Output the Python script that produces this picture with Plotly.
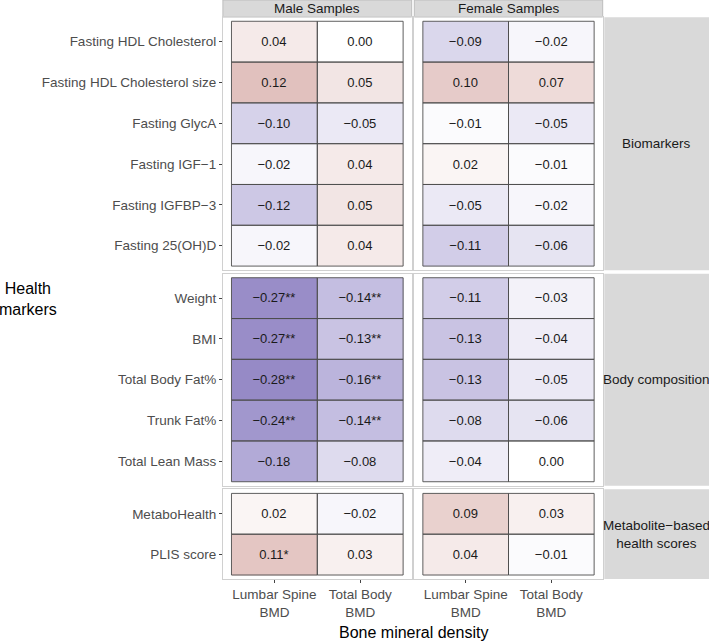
import plotly.graph_objects as go

W, H = 709, 641

bmd_labels = ["Lumbar Spine<br>BMD", "Total Body<br>BMD"]
sexes = ["Male Samples", "Female Samples"]
groups = ["Biomarkers", "Body composition", "Metabolite\u2212based<br>health scores"]

biomarkers = ["Fasting HDL Cholesterol", "Fasting HDL Cholesterol size", "Fasting GlycA",
              "Fasting IGF\u22121", "Fasting IGFBP\u22123", "Fasting 25(OH)D"]
body_comp = ["Weight", "BMI", "Total Body Fat%", "Trunk Fat%", "Total Lean Mass"]
scores = ["MetaboHealth", "PLIS score"]

# values: [Male LS, Male TB, Female LS, Female TB]
bio_vals = [[0.04, 0.00, -0.09, -0.02],
            [0.12, 0.05, 0.10, 0.07],
            [-0.10, -0.05, -0.01, -0.05],
            [-0.02, 0.04, 0.02, -0.01],
            [-0.12, 0.05, -0.05, -0.02],
            [-0.02, 0.04, -0.11, -0.06]]
body_vals = [[-0.27, -0.14, -0.11, -0.03],
             [-0.27, -0.13, -0.13, -0.04],
             [-0.28, -0.16, -0.13, -0.05],
             [-0.24, -0.14, -0.08, -0.06],
             [-0.18, -0.08, -0.04, 0.00]]
score_vals = [[0.02, -0.02, 0.09, 0.03],
              [0.11, 0.03, 0.04, -0.01]]

bio_sig = [["", "", "", ""]] * 6
body_sig = [["**", "**", "", ""], ["**", "**", "", ""], ["**", "**", "", ""],
            ["**", "**", "", ""], ["", "", "", ""]]
score_sig = [["", "", "", ""], ["*", "", "", ""]]

row_labels = [biomarkers, body_comp, scores]
row_vals = [bio_vals, body_vals, score_vals]
row_sigs = [bio_sig, body_sig, score_sig]

colorscale = [[0.0, "rgb(145,132,195)"], [0.0333, "rgb(150,138,198)"],
              [0.2, "rgb(178,170,215)"], [0.333, "rgb(214,210,234)"],
              [0.5, "rgb(255,255,255)"], [0.7, "rgb(225,193,190)"],
              [1.0, "rgb(190,120,112)"]]

FONT = "Liberation Sans"

def fmt(v, s):
    t = "%.2f" % v
    if v < 0:
        t = "\u2212" + t[1:]
    return t + s

# layout geometry (pixels)
col_px = [(222.9, 411.7), (414.3, 602.7)]
unit = 40.8
gap = 3.5
top = 17.2
row_px = []
y0 = top
for labels in row_labels:
    h = (len(labels) + 0.2) * unit
    row_px.append((y0, y0 + h))
    y0 += h + gap
strip_top = (0, 17.0)
strip_right = (604.3, 709)

def px_x(x):
    return x / W

def px_y(y):
    return 1 - y / H

fig = go.Figure()
shapes = []
annotations = []
layout_axes = {}

for r, labels in enumerate(row_labels):
    n = len(labels)
    for c in range(2):
        k = r * 2 + c + 1
        xa = "x" if k == 1 else "x%d" % k
        ya = "y" if k == 1 else "y%d" % k
        z = [row[c * 2:c * 2 + 2] for row in row_vals[r]]
        txt = [[fmt(row_vals[r][j][c * 2 + i], row_sigs[r][j][c * 2 + i]) for i in range(2)]
               for j in range(n)]
        fig.add_trace(go.Heatmap(
            z=z, x=[0, 1], y=list(range(n)), text=txt, texttemplate="%{text}",
            textfont=dict(size=13, color="#1a1a1a", family=FONT),
            colorscale=colorscale, zmin=-0.3, zmax=0.3, showscale=False,
            xaxis=xa, yaxis=ya, hoverinfo="skip"))
        for j in range(n):
            for i in range(2):
                shapes.append(dict(type="rect", xref=xa, yref=ya,
                                   x0=i - 0.5, x1=i + 0.5, y0=j - 0.5, y1=j + 0.5,
                                   line=dict(color="#4d4d4d", width=0.9),
                                   fillcolor="rgba(0,0,0,0)", layer="above"))
        xkey = "xaxis" if k == 1 else "xaxis%d" % k
        ykey = "yaxis" if k == 1 else "yaxis%d" % k
        layout_axes[xkey] = dict(
            domain=[px_x(col_px[c][0]), px_x(col_px[c][1])],
            anchor=ya, range=[-0.6, 1.6], showgrid=False, zeroline=False,
            showline=True, mirror=True, linecolor="#d0d0d0", linewidth=1,
            tickvals=[0, 1], ticktext=bmd_labels,
            showticklabels=(r == 2), ticks="outside" if r == 2 else "",
            ticklen=3, tickcolor="#444",
            tickfont=dict(size=13.5, color="#4d4d4d", family=FONT))
        layout_axes[ykey] = dict(
            domain=[px_y(row_px[r][1]), px_y(row_px[r][0])],
            anchor=xa, range=[n - 0.4, -0.6], showgrid=False, zeroline=False,
            showline=True, mirror=True, linecolor="#d0d0d0", linewidth=1,
            tickvals=list(range(n)), ticktext=labels,
            showticklabels=(c == 0), ticks="outside" if c == 0 else "",
            ticklen=3, tickcolor="#444",
            tickfont=dict(size=13.5, color="#4d4d4d", family=FONT))

# top strips
for c, name in enumerate(sexes):
    shapes.append(dict(type="rect", xref="paper", yref="paper",
                       x0=px_x(col_px[c][0]), x1=px_x(col_px[c][1]),
                       y0=px_y(strip_top[1]), y1=px_y(strip_top[0]),
                       fillcolor="#d9d9d9", line=dict(color="#bdbdbd", width=1), layer="below"))
    annotations.append(dict(text=name, xref="paper", yref="paper",
                            x=px_x((col_px[c][0] + col_px[c][1]) / 2),
                            y=px_y((strip_top[0] + strip_top[1]) / 2),
                            showarrow=False, xanchor="center", yanchor="middle",
                            font=dict(size=13.5, color="#1a1a1a", family=FONT)))

# right strips
for r, g in enumerate(groups):
    shapes.append(dict(type="rect", xref="paper", yref="paper",
                       x0=px_x(strip_right[0]), x1=px_x(strip_right[1]),
                       y0=px_y(row_px[r][1]), y1=px_y(row_px[r][0]),
                       fillcolor="#d9d9d9", line=dict(color="#d9d9d9", width=0), layer="below"))
    annotations.append(dict(text=g, xref="paper", yref="paper",
                            x=px_x((strip_right[0] + strip_right[1]) / 2),
                            y=px_y((row_px[r][0] + row_px[r][1]) / 2),
                            showarrow=False, xanchor="center", yanchor="middle",
                            font=dict(size=13.5, color="#1a1a1a", family=FONT)))

# axis titles
annotations.append(dict(text="Health<br>markers", xref="paper", yref="paper",
                        x=px_x(28), y=px_y(299), showarrow=False,
                        xanchor="center", yanchor="middle",
                        font=dict(size=16, color="black", family=FONT)))
annotations.append(dict(text="Bone mineral density", xref="paper", yref="paper",
                        x=px_x(413), y=px_y(632), showarrow=False,
                        xanchor="center", yanchor="middle",
                        font=dict(size=16, color="black", family=FONT)))

fig.update_layout(width=W, height=H, margin=dict(l=0, r=0, t=0, b=0),
                  paper_bgcolor="white", plot_bgcolor="white",
                  shapes=shapes, annotations=annotations, **layout_axes)

fig.write_html("out.html")
